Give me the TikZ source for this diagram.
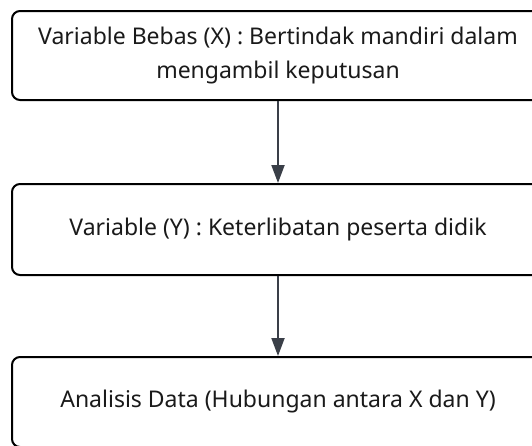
\documentclass[tikz,border=0pt]{standalone}
\usepackage{fontspec}
\setmainfont{Noto Sans}
\usetikzlibrary{arrows.meta}
\definecolor{arrowgray}{HTML}{3A3F48}
\definecolor{txt}{HTML}{1A1A1A}
\tikzset{
  box/.style={draw=black, line width=2pt, rounded corners=8pt, fill=white,
    minimum width=532pt, text=txt, align=center,
    font=\fontsize{23}{34}\selectfont, inner sep=0pt},
  conn/.style={draw=arrowgray, line width=2pt, -{Triangle[length=18pt,width=13pt]}}
}
\begin{document}
\begin{tikzpicture}[x=1pt,y=1pt]
\useasboundingbox (0,0) rectangle (532,-445);
\node[box, minimum height=89pt] (x) at (278,-55.5)
  {Variable Bebas (X) : Bertindak mandiri dalam\\mengambil keputusan};
\node[box, minimum height=91pt] (y) at (278,-229.5)
  {Variable (Y) : Keterlibatan peserta didik};
\node[box, minimum height=90pt] (a) at (278,-402)
  {Analisis Data (Hubungan antara X dan Y)};
\draw[conn] (x.south) -- (y.north);
\draw[conn] (y.south) -- (a.north);
\end{tikzpicture}
\end{document}
